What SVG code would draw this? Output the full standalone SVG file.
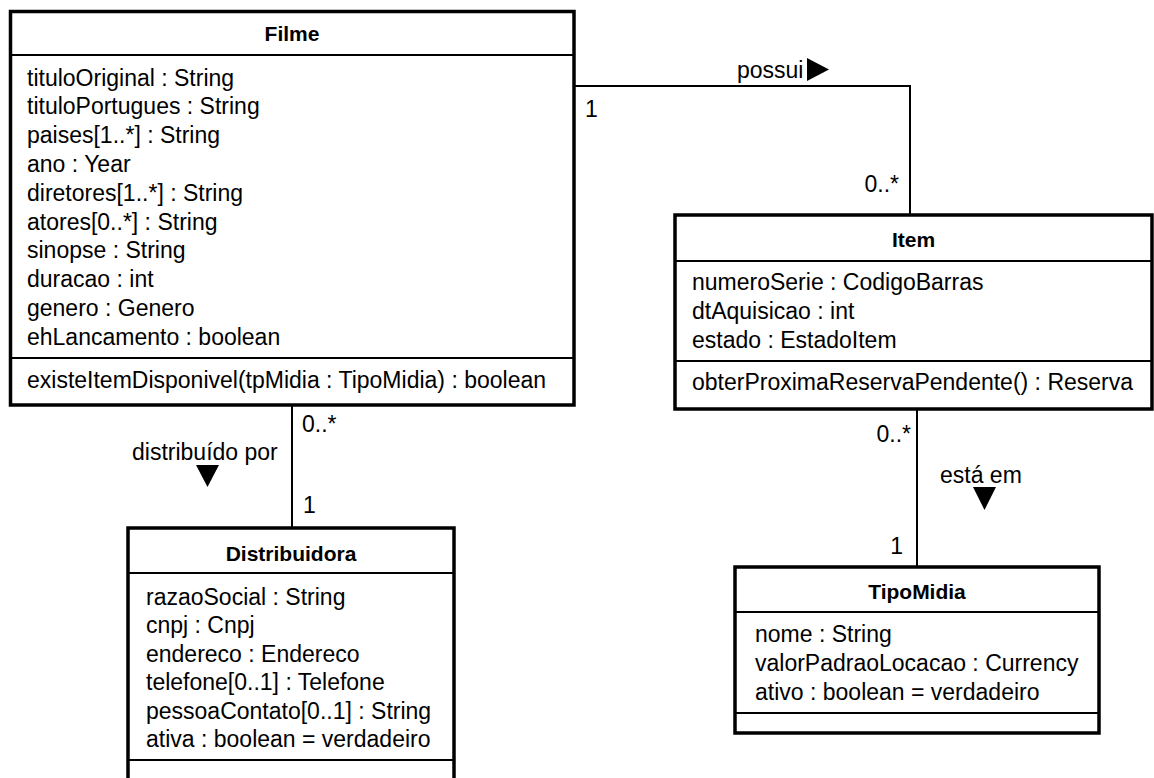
<svg xmlns="http://www.w3.org/2000/svg" width="1154" height="778" viewBox="0 0 1154 778">
<style>
.box{fill:#fff;stroke:#000;stroke-width:3.5}
.sep{stroke:#000;stroke-width:2}
.t{font-family:"Liberation Sans",Arial,sans-serif;font-size:23px;fill:#000}
.h{font-family:"Liberation Sans",Arial,sans-serif;font-size:21px;font-weight:bold;fill:#000;text-anchor:middle}
.c{fill:none;stroke:#000;stroke-width:2}
.e{text-anchor:end}
</style>
<rect width="1154" height="778" fill="#fff"/>
<g id="connectors">
<path class="c" d="M574 86 H910 V215"/>
<path class="c" d="M292 405 V528"/>
<path class="c" d="M917 409 V567"/>
<text class="t" x="737" y="78">possui</text>
<polygon points="807,58 807,81 829,69.5" fill="#000"/>
<text class="t" x="585" y="117">1</text>
<text class="t e" x="899" y="192">0..*</text>
<text class="t" x="132" y="460">distribuído por</text>
<polygon points="196,465 219,465 207.5,487" fill="#000"/>
<text class="t" x="302" y="432">0..*</text>
<text class="t" x="303" y="513">1</text>
<text class="t e" x="911" y="442">0..*</text>
<text class="t" x="940" y="483">está em</text>
<polygon points="973,487 996,487 984.5,510" fill="#000"/>
<text class="t e" x="903" y="554">1</text>
</g>
<g id="Filme">
<rect class="box" x="10.5" y="11.5" width="563.5" height="393.5"/>
<line class="sep" x1="10.5" y1="55" x2="574" y2="55"/>
<line class="sep" x1="10.5" y1="358" x2="574" y2="358"/>
<text class="h" x="292" y="41">Filme</text>
<text class="t" x="27" y="85.5">tituloOriginal : String</text>
<text class="t" x="27" y="114.3">tituloPortugues : String</text>
<text class="t" x="27" y="143.1">paises[1..*] : String</text>
<text class="t" x="27" y="171.9">ano : Year</text>
<text class="t" x="27" y="200.7">diretores[1..*] : String</text>
<text class="t" x="27" y="229.5">atores[0..*] : String</text>
<text class="t" x="27" y="258.3">sinopse : String</text>
<text class="t" x="27" y="287.1">duracao : int</text>
<text class="t" x="27" y="315.9">genero : Genero</text>
<text class="t" x="27" y="344.7">ehLancamento : boolean</text>
<text class="t" x="27" y="388">existeItemDisponivel(tpMidia : TipoMidia) : boolean</text>
</g>
<g id="Item">
<rect class="box" x="675" y="215" width="477" height="194"/>
<line class="sep" x1="675" y1="261" x2="1152" y2="261"/>
<line class="sep" x1="675" y1="361" x2="1152" y2="361"/>
<text class="h" x="913.5" y="247">Item</text>
<text class="t" x="692" y="290">numeroSerie : CodigoBarras</text>
<text class="t" x="692" y="318.8">dtAquisicao : int</text>
<text class="t" x="692" y="347.6">estado : EstadoItem</text>
<text class="t" x="692" y="390">obterProximaReservaPendente() : Reserva</text>
</g>
<g id="Distribuidora">
<rect class="box" x="128" y="528" width="326" height="262"/>
<line class="sep" x1="128" y1="573" x2="454" y2="573"/>
<line class="sep" x1="128" y1="760" x2="454" y2="760"/>
<text class="h" x="291" y="561">Distribuidora</text>
<text class="t" x="146" y="604.5">razaoSocial : String</text>
<text class="t" x="146" y="633">cnpj : Cnpj</text>
<text class="t" x="146" y="661.5">endereco : Endereco</text>
<text class="t" x="146" y="690">telefone[0..1] : Telefone</text>
<text class="t" x="146" y="718.5">pessoaContato[0..1] : String</text>
<text class="t" x="146" y="747">ativa : boolean = verdadeiro</text>
</g>
<g id="TipoMidia">
<rect class="box" x="735" y="567" width="364" height="166"/>
<line class="sep" x1="735" y1="612" x2="1099" y2="612"/>
<line class="sep" x1="735" y1="713" x2="1099" y2="713"/>
<text class="h" x="917" y="599">TipoMidia</text>
<text class="t" x="755" y="642">nome : String</text>
<text class="t" x="755" y="671">valorPadraoLocacao : Currency</text>
<text class="t" x="755" y="700">ativo : boolean = verdadeiro</text>
</g>
</svg>
